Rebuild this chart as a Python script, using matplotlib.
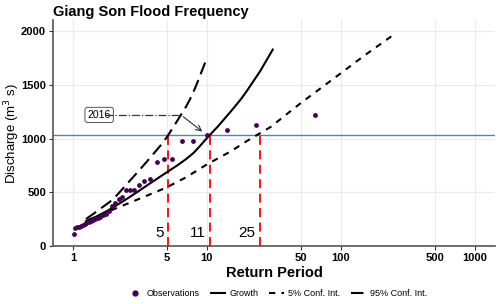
import numpy as np
import matplotlib
matplotlib.use('Agg')
import matplotlib.pyplot as plt
from matplotlib.lines import Line2D

plt.rcParams['font.family'] = ['Liberation Sans', 'DejaVu Sans']

# observed annual maxima (return period, discharge)
obs_T = [64.5, 23.2, 14.1, 10.1, 7.92, 6.50, 5.50, 4.78, 4.22, 3.78, 3.42, 3.13,
         2.88, 2.67, 2.49, 2.33, 2.19, 2.06, 1.95, 1.85, 1.76, 1.68, 1.60, 1.53,
         1.47, 1.41, 1.36, 1.31, 1.26, 1.22, 1.18, 1.144, 1.109, 1.076, 1.045, 1.016]
obs_Q = [1221, 1131, 1081, 1034, 981, 981, 810, 808, 780, 622, 603, 568,
         519, 519, 519, 460, 438, 398, 376, 330, 300, 285, 268, 258,
         250, 245, 235, 225, 215, 205, 195, 188, 180, 175, 165, 115]

# growth curve
growth_T = [1.25, 1.5, 1.75, 2, 2.5, 3, 4, 5, 6, 7, 8, 9, 10, 12, 15, 18, 20, 25, 31]
growth_Q = [230, 275, 318, 360, 435, 500, 605, 685, 750, 810, 870, 940, 1005,
            1110, 1250, 1370, 1450, 1630, 1830]

# 5% confidence interval
low_T = [1.3, 2, 3, 5, 7, 10, 15, 20, 30, 50, 100, 150, 246]
low_Q = [240, 340, 430, 545, 640, 760, 880, 980, 1110, 1330, 1610, 1775, 1966]

# 95% confidence interval
up_T = [1.25, 1.5, 2, 2.5, 3, 3.5, 4, 4.5, 5, 5.5, 6, 6.5, 7, 7.5, 8, 8.5, 9, 9.5, 10]
up_Q = [250, 320, 435, 570, 680, 775, 860, 935, 1010, 1090, 1165, 1235, 1300,
        1370, 1445, 1525, 1605, 1680, 1750]

flood_level = 1030
event_T = [5.15, 10.5, 24.7]
event_labels = ['5', '11', '25']

xticks = [1, 5, 10, 50, 100, 500, 1000]
yticks = [0, 500, 1000, 1500, 2000]

fig = plt.figure(figsize=(5, 3.04), dpi=100)
ax = fig.add_axes([0.106, 0.191, 0.884, 0.743])

ax.set_xscale('log')
ax.set_xlim(0.71, 1413)
ax.set_ylim(0, 2105)

ax.grid(True, color='#ebebeb', lw=0.8)
ax.set_axisbelow(True)

ax.axhline(flood_level, color='#4a86b8', lw=1.0, zorder=2)
for t, lab in zip(event_T, event_labels):
    ax.plot([t, t], [0, flood_level], color='red', lw=1.3, ls=(0, (5, 3)), zorder=3)
    ax.text(t * 0.93, 55, lab, ha='right', va='bottom', fontsize=11)

ax.plot(growth_T, growth_Q, color='black', lw=1.5, zorder=4)
ax.plot(low_T, low_Q, color='black', lw=1.5, ls=(0, (3, 3)), zorder=4)
ax.plot(up_T, up_Q, color='black', lw=1.5, ls=(0, (6, 3)), zorder=4)
ax.scatter(obs_T, obs_Q, s=12, color='#440154', zorder=5, lw=0)

# 2016 annotation
ax.plot([1.75, 6.4], [1221, 1221], color='#333333', lw=0.9, ls='-.', zorder=4)
ax.annotate('', xy=(9.6, 1050), xytext=(6.4, 1221),
            arrowprops=dict(arrowstyle='->', color='#333333', lw=0.8), zorder=4)
ax.text(1.57, 1221, '2016', ha='center', va='center', fontsize=7.5,
        bbox=dict(boxstyle='round,pad=0.25', fc='white', ec='#555555', lw=0.7))

ax.xaxis.set_major_locator(matplotlib.ticker.FixedLocator(xticks))
ax.xaxis.set_minor_locator(matplotlib.ticker.NullLocator())
ax.set_xticklabels([str(v) for v in xticks])
ax.set_yticks(yticks)
for lab in ax.get_xticklabels() + ax.get_yticklabels():
    lab.set_fontweight('bold')
    lab.set_fontsize(8)
ax.tick_params(length=3, width=0.8, color='#333333', pad=2)

for s in ['top', 'right']:
    ax.spines[s].set_visible(False)
for s in ['left', 'bottom']:
    ax.spines[s].set_color('#555555')
    ax.spines[s].set_linewidth(1.2)

ax.set_xlabel('Return Period', fontweight='bold', fontsize=10.5, labelpad=2)
ax.set_ylabel('Discharge (m$^3$ s)', fontsize=9.5)
ax.yaxis.set_label_coords(-0.071, 0.5)
ax.set_title('Giang Son Flood Frequency', fontweight='bold', fontsize=10.5,
             loc='left', x=-0.0, pad=3)

handles = [
    Line2D([], [], marker='o', ls='none', color='#440154', markersize=3.5),
    Line2D([], [], color='black', lw=1.5),
    Line2D([], [], color='black', lw=1.5, ls=(0, (3, 3))),
    Line2D([], [], color='black', lw=1.5, ls=(0, (6, 3))),
]
labels = ['Observations', 'Growth', '5% Conf. Int.', '95% Conf. Int.']
fig.legend(handles, labels, loc='center', bbox_to_anchor=(0.555, 0.033), ncol=4,
           frameon=False, fontsize=6.5, handlelength=1.6, columnspacing=1.2,
           handletextpad=0.5)

fig.savefig('out.png', dpi=100)
